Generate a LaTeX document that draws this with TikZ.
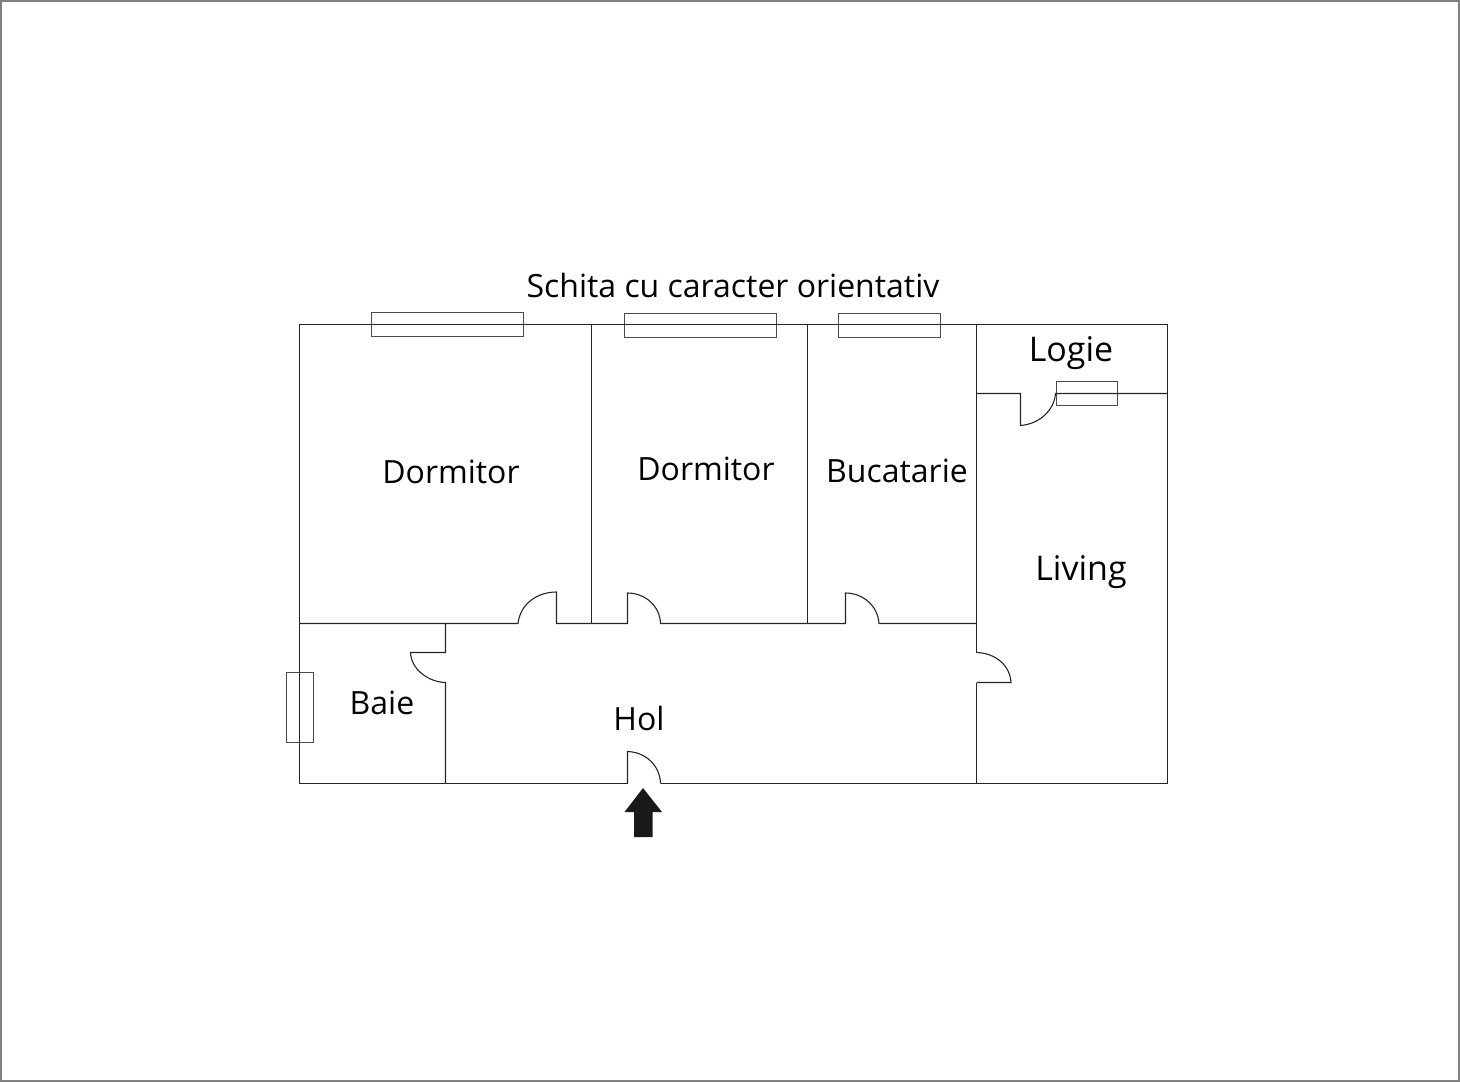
\documentclass[tikz,border=0pt]{standalone}
\usepackage{fontspec}
\setmainfont{Open Sans}
\tikzset{
  wall/.style={draw=black!85,line width=0.55pt},
  pane/.style={draw=black!70,line width=0.55pt},
  room/.style={font=\fontsize{16}{19}\selectfont,inner sep=0pt,text=black},
  bigroom/.style={room,font=\fontsize{17}{20}\selectfont},
}
\begin{document}
\begin{tikzpicture}[x=0.5pt,y=-0.5pt]
  \useasboundingbox (0,0) rectangle (1460,1082);
  \draw[draw=black!50,line width=1pt] (1,1) rectangle (1459,1081);
  % windows
  \foreach \xa/\ya/\xb/\yb in {371.5/312.5/523.5/336.5,624.5/313.5/776.5/337.5,838.5/313.5/940.5/337.5,1056.5/381.5/1117.5/405.5,286.5/672.5/313.5/742.5}
    \draw[pane] (\xa,\ya) rectangle (\xb,\yb);
  % outer walls
  \draw[wall] (627.5,783.5) -- (299.5,783.5) -- (299.5,324.5) -- (1167.5,324.5) -- (1167.5,783.5) -- (660.5,783.5);
  % inner walls
  \draw[wall] (591.5,324.5) -- (591.5,623.5);
  \draw[wall] (807.5,324.5) -- (807.5,623.5);
  \draw[wall] (976.5,324.5) -- (976.5,652.5);
  \draw[wall] (976.5,682.5) -- (976.5,783.5);
  \draw[wall] (445.5,623.5) -- (445.5,652.5) -- (410.5,652.5) .. controls (411,669) and (428,682) .. (445.5,682.5) -- (445.5,783.5);
  % corridor wall with doors
  \draw[wall] (299.5,623.5) -- (518,623.5) .. controls (520,605) and (536,592) .. (556.5,592) -- (556.5,623.5) -- (627.5,623.5) -- (627.5,593)
    .. controls (645,593) and (660,606) .. (660.5,623.5) -- (845.5,623.5) -- (845.5,593)
    .. controls (863,593) and (878,606) .. (879,623.5) -- (976.5,623.5);
  % logie
  \draw[wall] (976.5,393.5) -- (1020.5,393.5) -- (1020.5,425.5) .. controls (1039,424) and (1054,411) .. (1055.5,393.5) -- (1167.5,393.5);
  % doors
  \draw[wall] (976.5,652.5) .. controls (995,653) and (1010,665) .. (1011,682.5) -- (976.5,682.5);
  \draw[wall] (627.5,783.5) -- (627.5,751.5) .. controls (645,752) and (660,765) .. (660.5,783.5);
  % entrance
  \fill[black!90] (643,788) -- (662,812) -- (652.5,812) -- (652.5,837) -- (634,837) -- (634,812) -- (624.5,812) -- cycle;
  % labels
  \node[room] (title) at (733,285) {Schita cu caracter orientativ};
  \node[bigroom] (logie) at (1071,353) {Logie};
  \node[room] (dorma) at (451,472) {Dormitor};
  \node[room] (dormb) at (706,469) {Dormitor};
  \node[room] (bucatarie) at (897,471) {Bucatarie};
  \node[bigroom] (living) at (1081,572) {Living};
  \node[room] (baie) at (382,703) {Baie};
  \node[room] (hol) at (639,718) {Hol};
\end{tikzpicture}
\end{document}
